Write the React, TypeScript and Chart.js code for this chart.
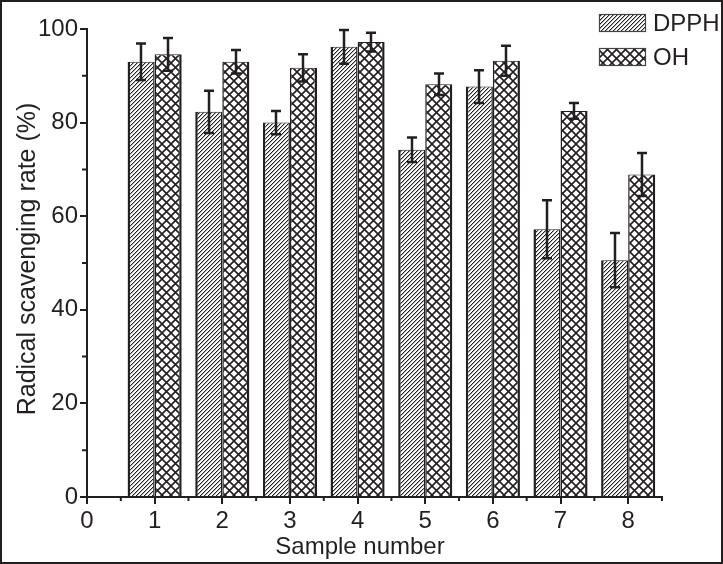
import React, { useEffect, useRef } from "react";
import { Chart, registerables } from "chart.js";

Chart.register(...registerables);

const samples = [1, 2, 3, 4, 5, 6, 7, 8];
const dpphValues = [93.0, 82.3, 80.0, 96.2, 74.2, 87.7, 57.2, 50.6];
const dpphErrors = [3.9, 4.5, 2.5, 3.6, 2.6, 3.5, 6.2, 5.8];
const ohValues = [94.6, 93.0, 91.7, 97.2, 88.2, 93.2, 82.5, 68.9];
const ohErrors = [3.5, 2.5, 2.9, 2.0, 2.3, 3.2, 1.7, 4.6];
const xMinorTicks = [0.5, 1.5, 2.5, 3.5, 4.5, 5.5, 6.5, 7.5, 8.5];
const yMinorTicks = [10, 30, 50, 70, 90];
const seriesLabels = ["DPPH", "OH"];
const xTitle = "Sample number";
const yTitle = "Radical scavenging rate (%)";

const INK = "#231f20";
const FONT = "'Liberation Sans', Arial, sans-serif";

function makeDiagPattern(ctx: CanvasRenderingContext2D) {
  const p = 4;
  const c = document.createElement("canvas");
  c.width = p;
  c.height = p;
  const g = c.getContext("2d")!;
  g.fillStyle = "#ffffff";
  g.fillRect(0, 0, p, p);
  for (let x = 0; x < p; x++) {
    for (let y = 0; y < p; y++) {
      const k = (x + y) % p;
      if (k === 3) {
        g.fillStyle = INK;
        g.fillRect(x, y, 1, 1);
      } else if (k === 0) {
        g.fillStyle = "#b0b0b0";
        g.fillRect(x, y, 1, 1);
      }
    }
  }
  return ctx.createPattern(c, "repeat")!;
}

function makeCrossPattern(ctx: CanvasRenderingContext2D) {
  const p = 9;
  const c = document.createElement("canvas");
  c.width = p;
  c.height = p;
  const g = c.getContext("2d")!;
  g.fillStyle = "#ffffff";
  g.fillRect(0, 0, p, p);
  g.strokeStyle = INK;
  g.lineWidth = 1.6;
  g.beginPath();
  g.moveTo(-1, p + 1);
  g.lineTo(p + 1, -1);
  g.moveTo(-1, -1);
  g.lineTo(p + 1, p + 1);
  g.stroke();
  return ctx.createPattern(c, "repeat")!;
}

export default function App() {
  const ref = useRef<HTMLCanvasElement | null>(null);

  useEffect(() => {
    const canvas = ref.current!;
    const ctx = canvas.getContext("2d")!;
    const diag = makeDiagPattern(ctx);
    const cross = makeCrossPattern(ctx);
    const patterns = [diag, cross];
    const errors = [dpphErrors, ohErrors];
    const values = [dpphValues, ohValues];

    const decorations = {
      id: "decorations",
      afterDraw(chart: any) {
        const c = chart.ctx as CanvasRenderingContext2D;
        const xs = chart.scales.x;
        const ys = chart.scales.y;
        const area = chart.chartArea;
        c.save();
        c.strokeStyle = INK;
        c.fillStyle = INK;

        // error bars
        c.lineWidth = 2.5;
        for (let d = 0; d < 2; d++) {
          const meta = chart.getDatasetMeta(d);
          meta.data.forEach((bar: any, i: number) => {
            const v = values[d][i];
            const e = errors[d][i];
            const x = Math.round(bar.x);
            const yt = ys.getPixelForValue(v + e);
            const yb = ys.getPixelForValue(v - e);
            c.beginPath();
            c.moveTo(x, yt);
            c.lineTo(x, yb);
            c.moveTo(x - 5, yt);
            c.lineTo(x + 5, yt);
            c.moveTo(x - 5, yb);
            c.lineTo(x + 5, yb);
            c.stroke();
          });
        }

        // minor ticks
        c.lineWidth = 2;
        c.beginPath();
        xMinorTicks.forEach((t) => {
          const x = xs.getPixelForValue(t);
          c.moveTo(x, area.bottom);
          c.lineTo(x, area.bottom + 4);
        });
        yMinorTicks.forEach((t) => {
          const y = ys.getPixelForValue(t);
          c.moveTo(area.left, y);
          c.lineTo(area.left - 5, y);
        });
        c.stroke();

        // legend
        const boxX = 599;
        const boxW = 47;
        const boxH = 18;
        const boxYs = [14, 48];
        c.font = `24px ${FONT}`;
        c.textBaseline = "middle";
        c.textAlign = "left";
        for (let d = 0; d < 2; d++) {
          const by = boxYs[d];
          c.fillStyle = "#ffffff";
          c.fillRect(boxX, by, boxW, boxH);
          c.fillStyle = patterns[d];
          c.fillRect(boxX, by, boxW, boxH);
          c.lineWidth = 1.2;
          c.strokeStyle = "#444";
          c.strokeRect(boxX + 0.5, by + 0.5, boxW - 1, boxH - 1);
          c.fillStyle = INK;
          c.fillText(chart.data.datasets[d].label, 653, by + boxH / 2 + 1);
        }

        // axis titles
        c.fillStyle = INK;
        c.font = `24px ${FONT}`;
        c.textAlign = "center";
        c.textBaseline = "alphabetic";
        c.fillText(xTitle, 360, 554);

        c.save();
        c.translate(35, (area.top + area.bottom) / 2 - 4);
        c.rotate(-Math.PI / 2);
        c.font = `25px ${FONT}`;
        c.fillText(yTitle, 0, 0);
        c.restore();

        // frame
        c.lineWidth = 2;
        c.strokeStyle = INK;
        c.strokeRect(1, 1, chart.width - 2, chart.height - 2);
        c.restore();
      },
    };

    const chart = new Chart(ctx, {
      type: "bar",
      data: {
        datasets: [
          {
            label: seriesLabels[0],
            data: samples.map((s, i) => ({ x: s, y: dpphValues[i] })),
            backgroundColor: diag,
            borderColor: INK,
            borderWidth: { top: 1, left: 2.5, right: 1.5, bottom: 0 },
            borderSkipped: "bottom",
          },
          {
            label: seriesLabels[1],
            data: samples.map((s, i) => ({ x: s, y: ohValues[i] })),
            backgroundColor: cross,
            borderColor: INK,
            borderWidth: { top: 1, left: 1.5, right: 2.5, bottom: 0 },
            borderSkipped: "bottom",
          },
        ],
      },
      options: {
        responsive: false,
        animation: false,
        devicePixelRatio: 1,
        datasets: { bar: { categoryPercentage: 0.8, barPercentage: 1.0 } },
        layout: { padding: { left: 0, right: 61, top: 29, bottom: 0 } },
        plugins: {
          legend: { display: false },
          tooltip: { enabled: false },
          title: { display: false },
        },
        scales: {
          x: {
            type: "linear",
            min: 0,
            max: 8.5,
            offset: false,
            grid: {
              offset: false,
              display: true,
              drawOnChartArea: false,
              drawTicks: true,
              tickLength: 7,
              color: INK,
              lineWidth: 2,
            },
            border: { display: true, color: INK, width: 2 },
            ticks: {
              stepSize: 1,
              includeBounds: false,
              color: INK,
              padding: 3,
              maxRotation: 0,
              autoSkip: false,
              font: { family: FONT, size: 24 },
            },
            afterFit(scale: any) {
              scale.height = 67;
            },
          },
          y: {
            type: "linear",
            min: 0,
            max: 100,
            grid: {
              display: true,
              drawOnChartArea: false,
              drawTicks: true,
              tickLength: 7,
              color: INK,
              lineWidth: 2,
            },
            border: { display: true, color: INK, width: 2 },
            ticks: {
              stepSize: 20,
              color: INK,
              padding: 2,
              font: { family: FONT, size: 24 },
            },
            afterFit(scale: any) {
              scale.width = 87;
            },
          },
        },
      },
      plugins: [decorations],
    } as any);

    return () => chart.destroy();
  }, []);

  return (
    <div
      style={{
        position: "absolute",
        left: 0,
        top: 0,
        width: 723,
        height: 564,
        background: "#ffffff",
      }}
    >
      <canvas
        ref={ref}
        width={723}
        height={564}
        style={{ width: 723, height: 564, display: "block" }}
      />
    </div>
  );
}
